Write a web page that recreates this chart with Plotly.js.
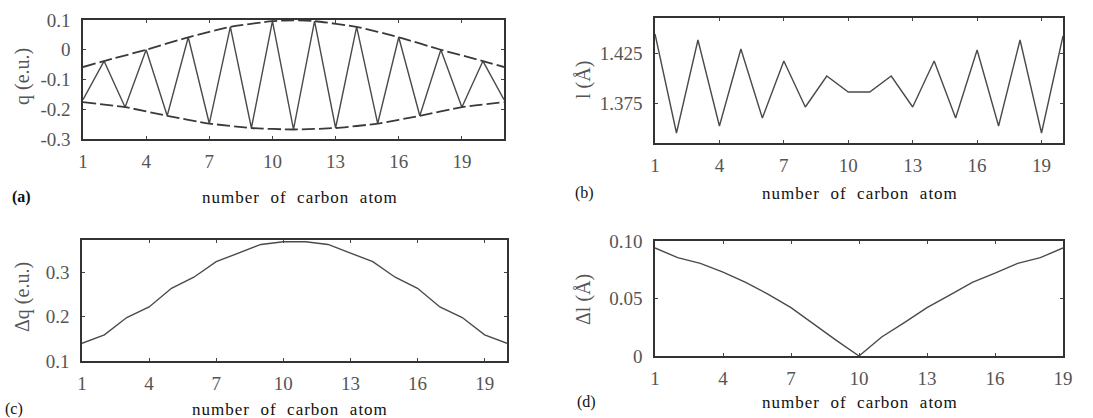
<!DOCTYPE html>
<html>
<head>
<meta charset="utf-8">
<script src="https://cdn.plot.ly/plotly-3.0.1.min.js"></script>
<style>html,body{margin:0;padding:0;background:#fff;}#plot{width:1093px;height:418px;}</style>
</head>
<body>
<div id="plot"></div>
<script>
// ---- Panel (a): charge q vs carbon atom ----
const atomsA = [1,2,3,4,5,6,7,8,9,10,11,12,13,14,15,16,17,18,19,20,21];
const qA = [-0.168,-0.038,-0.193,0.0,-0.222,0.042,-0.248,0.077,-0.263,0.096,-0.268,0.096,-0.263,0.077,-0.248,0.042,-0.222,0.0,-0.193,-0.038,-0.168];
const upperEnvX = [1,2,4,6,8,10,11,12,14,16,18,20,21];
const upperEnvY = [-0.058,-0.038,0.0,0.042,0.077,0.096,0.099,0.096,0.077,0.042,0.0,-0.038,-0.058];
const lowerEnvX = [1,3,5,7,9,11,13,15,17,19,21];
const lowerEnvY = [-0.176,-0.193,-0.222,-0.248,-0.263,-0.268,-0.263,-0.248,-0.222,-0.193,-0.176];

// ---- Panel (b): bond length l vs bond number ----
const atomsB = [1,2,3,4,5,6,7,8,9,10,11,12,13,14,15,16,17,18,19,20];
const lB = [1.444,1.345,1.438,1.352,1.429,1.360,1.417,1.371,1.402,1.386,1.386,1.402,1.371,1.417,1.360,1.428,1.352,1.438,1.345,1.442];

// ---- Panel (c): delta q ----
const atomsC = [1,2,3,4,5,6,7,8,9,10,11,12,13,14,15,16,17,18,19,20];
const dqC = [0.140,0.159,0.198,0.222,0.264,0.289,0.324,0.343,0.363,0.369,0.369,0.363,0.343,0.324,0.289,0.264,0.222,0.198,0.159,0.140];

// ---- Panel (d): delta l ----
const atomsD = [1,2,3,4,5,6,7,8,9,10,11,12,13,14,15,16,17,18,19];
const dlD = [0.094,0.0855,0.0806,0.073,0.064,0.0536,0.042,0.0275,0.0136,0.0,0.0165,0.029,0.042,0.053,0.064,0.072,0.0806,0.0855,0.094];

// ---- tick labels ----
const xTickVals = [1,4,7,10,13,16,19];
const xTickText = ['1','4','7','10','13','16','19'];
const yTickValsA = [-0.3,-0.2,-0.1,0,0.1];
const yTickTextA = ['-0.3','-0.2','-0.1','0','0.1'];
const yTickValsB = [1.375,1.425];
const yTickTextB = ['1.375','1.425'];
const yTickValsC = [0.1,0.2,0.3];
const yTickTextC = ['0.1','0.2','0.3'];
const yTickValsD = [0,0.05,0.1];
const yTickTextD = ['0','0.05','0.10'];

const lineColor = '#4a4a4a';
const serif = 'Liberation Serif, Times New Roman, serif';
const tickFont = {family: serif, size: 19, color: '#555'};

function line(x, y, xa, ya, extra) {
  return Object.assign({
    x: x, y: y, xaxis: xa, yaxis: ya, type: 'scatter', mode: 'lines',
    line: {color: lineColor, width: 1.4}, hoverinfo: 'skip', showlegend: false
  }, extra || {});
}

const data = [
  line(atomsA, qA, 'x', 'y'),
  line(upperEnvX, upperEnvY, 'x', 'y', {line: {color: '#3a3a3a', width: 1.8, dash: '13px,4px', shape: 'spline', smoothing: 0.6}}),
  line(lowerEnvX, lowerEnvY, 'x', 'y', {line: {color: '#3a3a3a', width: 1.8, dash: '13px,4px', shape: 'spline', smoothing: 0.6}}),
  line(atomsB, lB, 'x2', 'y2'),
  line(atomsC, dqC, 'x3', 'y3'),
  line(atomsD, dlD, 'x4', 'y4')
];

function xaxis(domain, range, anchor) {
  return {
    domain: domain, range: range, anchor: anchor,
    tickmode: 'array', tickvals: xTickVals, ticktext: xTickText,
    ticks: 'inside', ticklen: 3, tickcolor: '#444', mirror: 'ticks',
    showline: true, linecolor: '#333', linewidth: 1.6,
    showgrid: false, zeroline: false, tickfont: tickFont, ticklabelstandoff: 5
  };
}
function yaxis(domain, range, anchor, vals, text) {
  return {
    domain: domain, range: range, anchor: anchor,
    tickmode: 'array', tickvals: vals, ticktext: text,
    ticks: 'inside', ticklen: 3, tickcolor: '#444', mirror: 'ticks',
    showline: true, linecolor: '#333', linewidth: 1.6,
    showgrid: false, zeroline: false, tickfont: tickFont, ticklabelstandoff: 7
  };
}

const W = 1093, H = 418;
function xd(a, b) { return [a / W, b / W]; }
function yd(top, bottom) { return [1 - bottom / H, 1 - top / H]; }

function ann(text, xpx, ypx, opts) {
  return Object.assign({
    text: text, xref: 'paper', yref: 'paper', x: xpx / W, y: 1 - ypx / H,
    xanchor: 'center', yanchor: 'middle', showarrow: false,
    font: {family: serif, size: 16, color: '#111'}
  }, opts || {});
}
const yTitleFont = {family: serif, size: 20, color: '#555'};
const xTitleFont = {family: serif, size: 17, color: '#111'};
const xTitle = 'number\u00a0 of\u00a0 carbon\u00a0 atom';

const layout = {
  width: W, height: H,
  margin: {l: 0, r: 0, t: 0, b: 0},
  paper_bgcolor: '#fff', plot_bgcolor: '#fff',
  showlegend: false,
  xaxis: xaxis(xd(83, 504), [1, 21], 'y'),
  yaxis: yaxis(yd(20, 139), [-0.3, 0.1], 'x', yTickValsA, yTickTextA),
  xaxis2: xaxis(xd(655, 1063), [1, 20], 'y2'),
  yaxis2: yaxis(yd(18, 143), [1.335, 1.46], 'x2', yTickValsB, yTickTextB),
  xaxis3: xaxis(xd(82, 507), [1, 20], 'y3'),
  yaxis3: yaxis(yd(240, 361), [0.1, 0.373], 'x3', yTickValsC, yTickTextC),
  xaxis4: xaxis(xd(655, 1063), [1, 19], 'y4'),
  yaxis4: yaxis(yd(241, 356), [0, 0.1], 'x4', yTickValsD, yTickTextD),
  annotations: [
    ann('<b>(a)</b>', 21, 197),
    ann('(b)', 584, 193),
    ann('(c)', 14, 409),
    ann('(d)', 586, 402),
    ann(xTitle, 300, 197, {font: xTitleFont}),
    ann(xTitle, 860, 193, {font: xTitleFont}),
    ann(xTitle, 290, 409, {font: xTitleFont}),
    ann(xTitle, 860, 402, {font: xTitleFont}),
    ann('q (e.u.)', 22, 77, {textangle: -90, font: yTitleFont}),
    ann('l (Å)', 583, 80, {textangle: -90, font: yTitleFont}),
    ann('Δq (e.u.)', 22, 297, {textangle: -90, font: yTitleFont}),
    ann('Δl (Å)', 583, 300, {textangle: -90, font: yTitleFont})
  ]
};

Plotly.newPlot('plot', data, layout, {staticPlot: true, displayModeBar: false}).then(function (gd) {
  // widen the letter spacing of the x-axis titles, as in the scanned original
  gd.querySelectorAll('.annotation-text').forEach(function (t) {
    if (t.textContent.indexOf('carbon') >= 0) t.style.letterSpacing = '1px';
  });
});
</script>
</body>
</html>
